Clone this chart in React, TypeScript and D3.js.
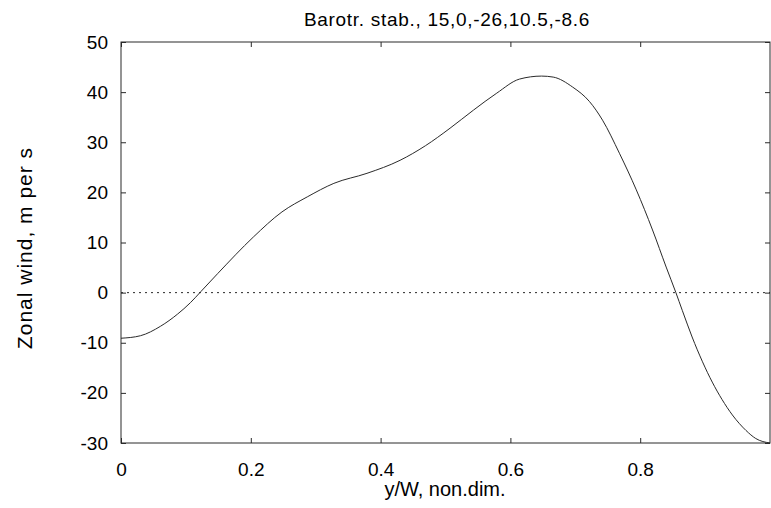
import React, { useEffect, useRef } from "react";
import * as d3 from "d3";

// zonal wind profile
const yPos = [0, 0.03, 0.061, 0.087, 0.107, 0.123, 0.149, 0.204, 0.248, 0.287, 0.328, 0.379, 0.43, 0.469, 0.507, 0.543, 0.579, 0.614, 0.648, 0.666, 0.696, 0.722, 0.742, 0.768, 0.794, 0.819, 0.84, 0.855, 0.865, 0.88, 0.896, 0.911, 0.926, 0.942, 0.963, 0.978, 1.0];
const windVals = [-9.1, -8.6, -6.7, -4.3, -2.0, 0.2, 3.8, 11.1, 16.1, 19.1, 21.8, 23.8, 26.4, 29.3, 32.8, 36.4, 39.8, 42.6, 43.2, 43.0, 41.0, 38.1, 34.4, 27.8, 20.5, 12.5, 5.1, 0, -3.6, -8.85, -13.8, -17.85, -21.3, -24.4, -27.5, -29.1, -30];

const xTicks = [0, 0.2, 0.4, 0.6, 0.8];
const yTicks = [-30, -20, -10, 0, 10, 20, 30, 40, 50];

const title = "Barotr. stab., 15,0,-26,10.5,-8.6";
const xLabel = "y/W, non.dim.";
const yLabel = "Zonal wind, m per s";

const W = 771;
const H = 508;

export default function App() {
  const svgRef = useRef<SVGSVGElement>(null);

  useEffect(() => {
    const margin = { top: 42, right: 1, bottom: 65, left: 121 };
    const svg = d3.select(svgRef.current);
    svg.selectAll("*").remove();

    const x = d3.scaleLinear().domain([0, 1]).range([margin.left, W - margin.right]);
    const y = d3.scaleLinear().domain([-30, 50]).range([H - margin.bottom, margin.top]);
    const font = "'Liberation Sans', Arial, sans-serif";
    const ink = "#2a2a2a";
    const fmt = (d: d3.NumberValue) => String(d);

    // frame
    svg
      .append("rect")
      .attr("x", x(0))
      .attr("y", y(50))
      .attr("width", x(1) - x(0))
      .attr("height", y(-30) - y(50))
      .attr("fill", "none")
      .attr("stroke", ink)
      .attr("stroke-width", 1);

    // axes, ticks pointing inward
    const bottom = svg
      .append("g")
      .attr("transform", `translate(0,${y(-30)})`)
      .call(d3.axisBottom(x).tickValues(xTicks).tickSizeInner(-5).tickSizeOuter(0).tickPadding(20).tickFormat(fmt));
    const top = svg
      .append("g")
      .attr("transform", `translate(0,${y(50)})`)
      .call(d3.axisTop(x).tickValues(xTicks).tickSizeInner(-5).tickSizeOuter(0).tickFormat(() => ""));
    const left = svg
      .append("g")
      .attr("transform", `translate(${x(0)},0)`)
      .call(d3.axisLeft(y).tickValues(yTicks).tickSizeInner(-5).tickSizeOuter(0).tickPadding(13).tickFormat(fmt));
    const right = svg
      .append("g")
      .attr("transform", `translate(${x(1)},0)`)
      .call(d3.axisRight(y).tickValues(yTicks).tickSizeInner(-5).tickSizeOuter(0).tickFormat(() => ""));

    [bottom, top, left, right].forEach((g) => {
      g.select(".domain").remove();
      g.selectAll("line").attr("stroke", ink);
      g.selectAll("text").attr("font-family", font).attr("font-size", 19).attr("fill", "#000");
    });

    // zero line
    svg
      .append("line")
      .attr("x1", x(0))
      .attr("x2", x(1))
      .attr("y1", y(0))
      .attr("y2", y(0))
      .attr("stroke", ink)
      .attr("stroke-dasharray", "2,4");

    // wind curve
    const data = yPos.map((p, i) => [p, windVals[i]] as [number, number]);
    const line = d3
      .line<[number, number]>()
      .x((d) => x(d[0]))
      .y((d) => y(d[1]))
      .curve(d3.curveMonotoneX);
    svg
      .append("path")
      .datum(data)
      .attr("d", line)
      .attr("fill", "none")
      .attr("stroke", ink)
      .attr("stroke-width", 1);

    // labels
    svg
      .append("text")
      .attr("x", 447)
      .attr("y", 26)
      .attr("text-anchor", "middle")
      .attr("font-family", font)
      .attr("font-size", 19)
      .attr("letter-spacing", 0.7)
      .text(title);
    svg
      .append("text")
      .attr("x", 445)
      .attr("y", 496)
      .attr("text-anchor", "middle")
      .attr("font-family", font)
      .attr("font-size", 20)
      .text(xLabel);
    svg
      .append("text")
      .attr("transform", `translate(32,248) rotate(-90)`)
      .attr("text-anchor", "middle")
      .attr("font-family", font)
      .attr("font-size", 21)
      .attr("letter-spacing", 1)
      .text(yLabel);
  }, []);

  return (
    <svg
      ref={svgRef}
      width={W}
      height={H}
      style={{ position: "absolute", left: 0, top: 0, background: "#fff" }}
    ></svg>
  );
}
